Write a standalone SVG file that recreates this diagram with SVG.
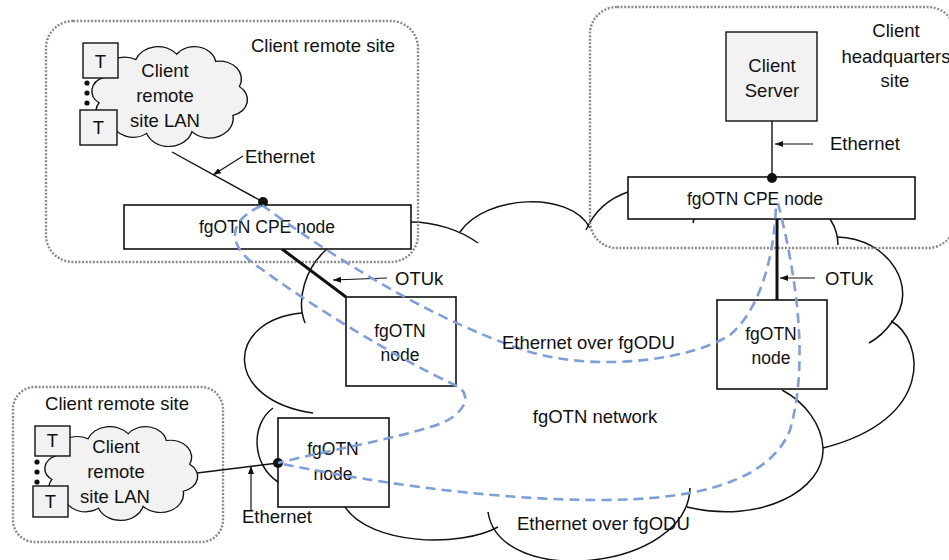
<svg xmlns="http://www.w3.org/2000/svg" width="949" height="560" viewBox="0 0 949 560">
  <defs>
    <style>
      text { font-family: "Liberation Sans", Arial, sans-serif; font-size: 18.5px; fill: #111; }
      .c { text-anchor: middle; }
      .nt { font-size: 17.5px; }
      .site { fill: none; stroke: #8a8a8a; stroke-width: 2.4; stroke-dasharray: 2 1.6; }
      .box { fill: #fff; stroke: #111; stroke-width: 1.6; }
      .gbox { fill: #f2f2f2; stroke: #111; stroke-width: 1.4; }
      .lan { fill: #f2f2f2; stroke: #111; stroke-width: 1.3; }
      .cloud { fill: none; stroke: #111; stroke-width: 1.5; }
      .link { fill: none; stroke: #111; stroke-width: 1.4; }
      .otu { fill: none; stroke: #111; stroke-width: 3; }
      .ptr { fill: none; stroke: #111; stroke-width: 1.2; marker-end: url(#head); }
      .odu { fill: none; stroke: #7f9fd8; stroke-width: 2.6; stroke-dasharray: 10 6; }
    </style>
    <marker id="head" viewBox="0 0 8 6" refX="8" refY="3" markerWidth="8" markerHeight="6" markerUnits="userSpaceOnUse" orient="auto">
      <path d="M0,0 L8,3 L0,6 z" fill="#111"/>
    </marker>
    <!-- generic cloud outline, about 144 x 110 units -->
    <path id="lanCloud" d="M18,62 A16,16 0 0 1 22,34 A20,20 0 0 1 52,14 A22,22 0 0 1 90,8 A20,20 0 0 1 126,16 A20,20 0 0 1 148,44 A18,18 0 0 1 142,76 A22,22 0 0 1 104,94 A22,22 0 0 1 62,96 A20,20 0 0 1 30,84 A14,14 0 0 1 18,62 Z"/>
  </defs>

  <rect width="949" height="560" fill="#fff"/>

  <!-- fgOTN network cloud outline -->
  <g id="fgotn-network">
    <path class="cloud" d="M302,313 C225,320 222,400 313,413"/>
    <path class="cloud" d="M327,249 C305,268 296,300 305,323"/>
    <path class="cloud" d="M411,222 C435,222 460,230 478,243"/>
    <path class="cloud" d="M460,232 C485,195 570,190 590,228"/>
    <path class="cloud" d="M586,230 C595,210 610,198 628,192"/>
    <path class="cloud" d="M694,219 L693,223"/>
    <path class="cloud" d="M830,219 C836,228 838,236 838,245"/>
    <path class="cloud" d="M837,237 C890,238 920,290 892,322 C885,332 878,338 869,343"/>
    <path class="cloud" d="M891,321 C925,340 935,420 823,448"/>
    <path class="cloud" d="M782,390 C805,402 822,425 823,448 C825,490 760,525 687,507"/>
    <path class="cloud" d="M690,488 C688,570 500,590 488,512"/>
    <path class="cloud" d="M345,507 C370,545 460,548 498,527"/>
    <path class="cloud" d="M273,408 C250,425 252,465 278,482"/>
    <text class="c" x="595" y="423">fgOTN network</text>
  </g>

  <!-- client sites -->
  <g id="site-remote-top">
    <rect class="site" x="46" y="21" width="372" height="241" rx="27"/>
    <text x="251" y="52">Client remote site</text>
  </g>
  <g id="site-headquarters">
    <rect class="site" x="590" y="7" width="365" height="241" rx="27"/>
    <text class="c" x="896" y="37">Client</text>
    <text class="c" x="896" y="63">headquarters</text>
    <text class="c" x="895" y="87">site</text>
  </g>
  <g id="site-remote-bottom">
    <rect class="site" x="13" y="387" width="210" height="155" rx="22"/>
    <text class="c" x="117" y="410">Client remote site</text>
  </g>

  <!-- connectors -->
  <g id="connectors">
    <line class="link" x1="172" y1="152" x2="263" y2="202"/>
    <line class="ptr" x1="243" y1="156" x2="213" y2="175"/>
    <line class="link" x1="772" y1="121" x2="772" y2="178"/>
    <line class="ptr" x1="813" y1="144" x2="775" y2="144"/>
    <line class="link" x1="197" y1="473" x2="278" y2="463"/>
    <line class="ptr" x1="251" y1="510" x2="251" y2="466"/>
    <line class="otu" x1="282" y1="249" x2="346" y2="297"/>
    <line class="ptr" x1="387" y1="278" x2="333" y2="280"/>
    <line class="otu" x1="777" y1="219" x2="777" y2="300"/>
    <line class="ptr" x1="815" y1="278" x2="780" y2="278"/>
    <text x="245" y="163">Ethernet</text>
    <text x="830" y="150">Ethernet</text>
    <text x="242" y="523">Ethernet</text>
    <text x="395" y="285">OTUk</text>
    <text x="825" y="285">OTUk</text>
  </g>

  <!-- remote LAN, top -->
  <g id="lan-top">
    <use href="#lanCloud" class="lan" transform="translate(79.6,47) scale(1.08,0.9)" vector-effect="non-scaling-stroke"/>
    <text class="c" x="165" y="77">Client</text>
    <text class="c" x="165" y="102">remote</text>
    <text class="c" x="165" y="127">site LAN</text>
  </g>
  <g id="terminal-top-1">
    <rect class="gbox" x="83" y="43" width="35" height="35"/>
    <text class="c" x="100.5" y="68">T</text>
  </g>
  <g id="terminal-top-2">
    <rect class="gbox" x="80" y="110" width="37" height="35"/>
    <text class="c" x="98.5" y="134">T</text>
  </g>
  <g id="terminal-top-dots" fill="#111">
    <circle cx="87" cy="83" r="2.6"/>
    <circle cx="87" cy="93" r="2.6"/>
    <circle cx="87" cy="103" r="2.6"/>
  </g>

  <!-- remote LAN, bottom -->
  <g id="lan-bottom">
    <use href="#lanCloud" class="lan" transform="translate(32.8,427) scale(1.06,0.845)" vector-effect="non-scaling-stroke"/>
    <text class="c" x="116" y="453">Client</text>
    <text class="c" x="116" y="478">remote</text>
    <text class="c" x="115" y="503">site LAN</text>
  </g>
  <g id="terminal-bottom-1">
    <rect class="gbox" x="35" y="426" width="35" height="30"/>
    <text class="c" x="52.5" y="447">T</text>
  </g>
  <g id="terminal-bottom-2">
    <rect class="gbox" x="33" y="486" width="35" height="31"/>
    <text class="c" x="50.5" y="508">T</text>
  </g>
  <g id="terminal-bottom-dots" fill="#111">
    <circle cx="37" cy="462" r="2.6"/>
    <circle cx="37" cy="472" r="2.6"/>
    <circle cx="37" cy="482" r="2.6"/>
  </g>

  <!-- client server -->
  <g id="client-server">
    <rect class="gbox" x="726" y="32" width="91" height="89"/>
    <text class="c" x="772" y="72">Client</text>
    <text class="c" x="772" y="97">Server</text>
  </g>

  <!-- CPE nodes -->
  <g id="cpe-left">
    <rect class="box" x="124" y="205" width="287" height="44"/>
    <text class="c nt" x="267" y="233">fgOTN CPE node</text>
  </g>
  <g id="cpe-right">
    <rect class="box" x="628" y="177" width="287" height="42"/>
    <text class="c nt" x="755" y="205">fgOTN CPE node</text>
  </g>

  <!-- fgOTN nodes -->
  <g id="node-upper">
    <rect class="box" x="346" y="297" width="110" height="89"/>
    <text class="c nt" x="400" y="337">fgOTN</text>
    <text class="c nt" x="400" y="361">node</text>
  </g>
  <g id="node-right">
    <rect class="box" x="717" y="300" width="110" height="89"/>
    <text class="c nt" x="771" y="340">fgOTN</text>
    <text class="c nt" x="771" y="364">node</text>
  </g>
  <g id="node-bottom">
    <rect class="box" x="278" y="418" width="111" height="89"/>
    <text class="c nt" x="333" y="455">fgOTN</text>
    <text class="c nt" x="333" y="480">node</text>
  </g>

  <!-- attachment points -->
  <g id="ports" fill="#111">
    <circle cx="263" cy="202" r="5"/>
    <circle cx="772" cy="178" r="5"/>
    <circle cx="278" cy="463" r="5"/>
  </g>

  <!-- Ethernet over fgODU paths -->
  <g id="odu-paths">
    <path class="odu" d="M262,205 C330,255 430,320 530,352 C600,372 690,360 730,335 C760,310 775,255 776,203"/>
    <path class="odu" d="M778,203 C795,270 810,360 790,430 C770,480 700,500 600,500 C480,500 350,478 278,463"/>
    <path class="odu" d="M261,206 C225,222 228,248 260,268 C310,305 400,360 455,385 C475,394 465,418 430,427 C390,440 320,452 278,463"/>
    <text x="502" y="349">Ethernet over fgODU</text>
    <text x="517" y="530">Ethernet over fgODU</text>
  </g>
</svg>
